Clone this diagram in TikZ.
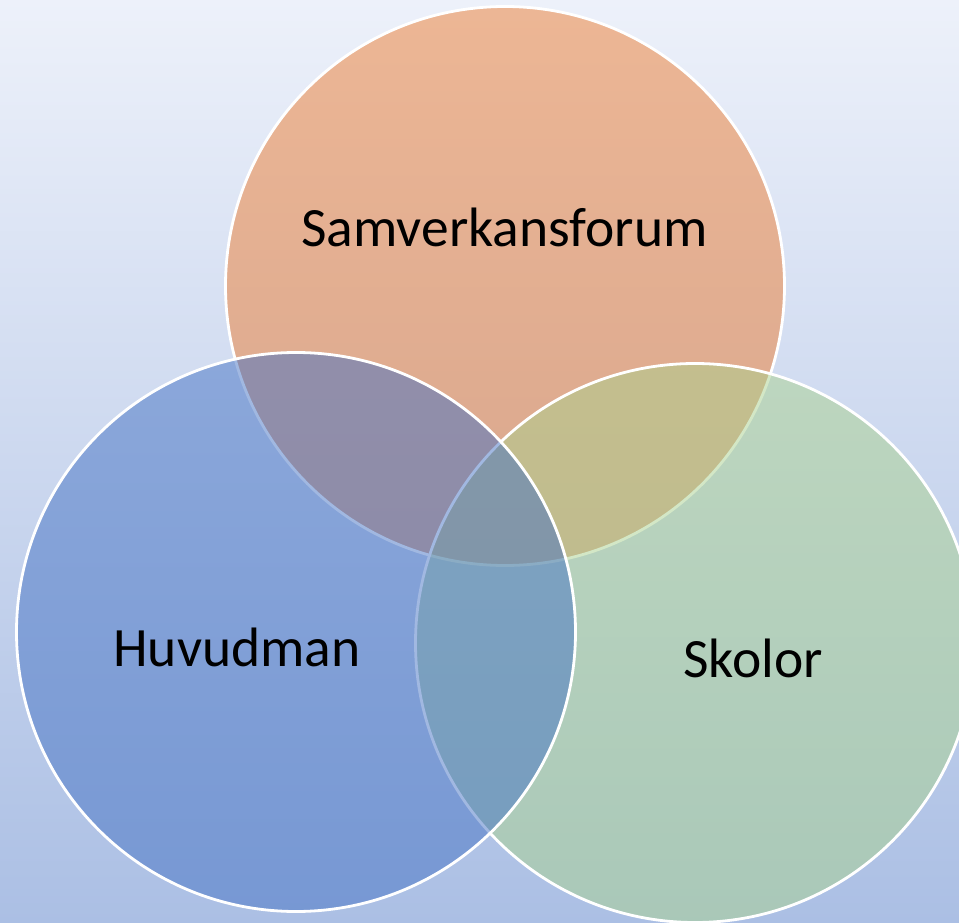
\documentclass[tikz,border=0pt]{standalone}
\usepackage{fontspec}
\setmainfont{Carlito}
\usepackage{tikz}
\definecolor{bgtop}{HTML}{EDF1FA}
\definecolor{bgbottom}{HTML}{ABBFE4}
\definecolor{forumorange}{HTML}{ED7D31}
\definecolor{huvudblue}{HTML}{4472C4}
\definecolor{skolgreen}{HTML}{A9D18E}

\begin{document}
\begin{tikzpicture}[x=1pt, y=1pt,
  venn/.style={circle, draw=white, line width=2.8pt, fill opacity=0.5, draw opacity=1, minimum size=559pt, inner sep=0pt, outer sep=0pt},
  venntext/.style={anchor=base, inner sep=0pt, text=black, font=\fontsize{55.5}{55.5}\selectfont}]
  % Background
  \shade[top color=bgtop, bottom color=bgbottom] (0,0) rectangle (959,-923);
  \useasboundingbox (0,0) rectangle (959,-923);

  % Circles (top, right, left)
  \node[venn, fill=forumorange] (forum) at (505,-286) {};
  \node[venn, fill=skolgreen] (skolor) at (695,-643) {};
  \node[venn, fill=huvudblue] (huvudman) at (296,-632) {};

  % Labels
  \node[venntext] (forumlabel) at (504.5,-246) {Samverkansforum};
  \node[venntext] (huvudlabel) at (237,-666) {Huvudman};
  \node[venntext] (skollabel) at (753,-677) {Skolor};
\end{tikzpicture}
\end{document}
